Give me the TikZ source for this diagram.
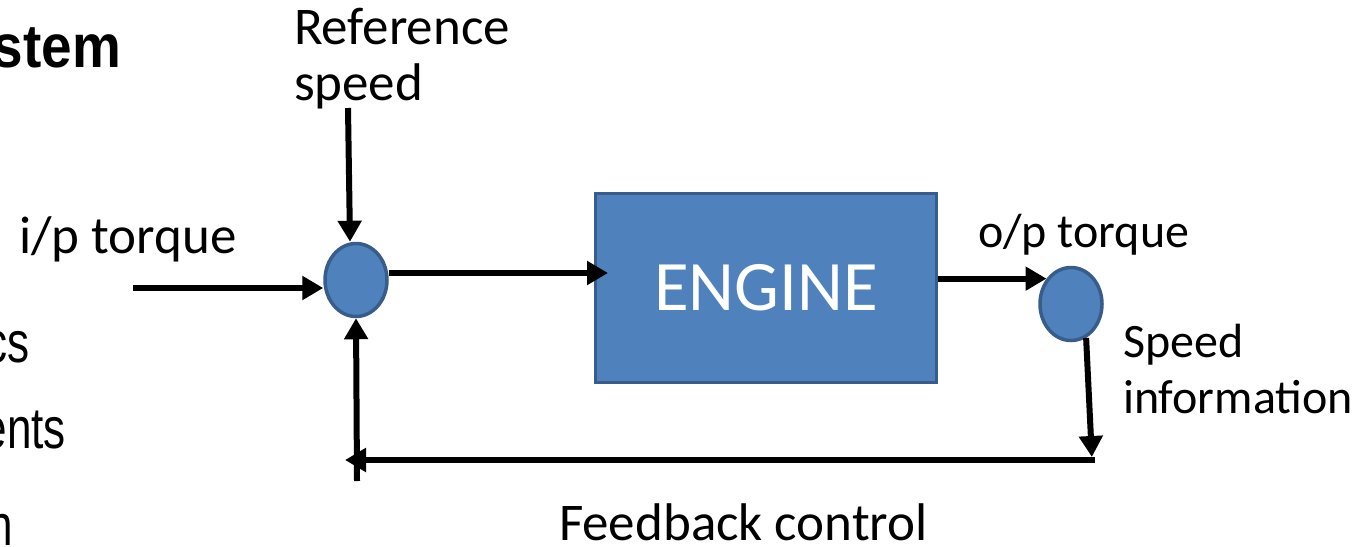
\documentclass[tikz,border=0pt]{standalone}
\usepackage{fontspec}
\setmainfont{Carlito}
\newfontfamily\slidefont{Liberation Sans}
\usetikzlibrary{positioning,calc,arrows.meta,shapes.geometric}
\definecolor{blockblue}{RGB}{79,129,189}
\definecolor{blockedge}{RGB}{56,93,138}
\newcommand{\squeezed}[2][0.76]{\scalebox{#1}[1]{#2}}

\begin{document}
\begin{tikzpicture}[x=1pt,y=-1pt,line width=6pt,>={Triangle[length=21pt,width=23pt]},
  lbl/.style={inner sep=0pt,anchor=base west,font=\fontsize{53}{56}\selectfont},
  lblr/.style={lbl,font=\fontsize{48}{56}\selectfont},
  frag/.style={inner sep=0pt,anchor=base east,font=\slidefont\fontsize{58}{60}\selectfont},
  junction/.style={ellipse,draw=blockedge,fill=blockblue,line width=3.5pt,minimum width=62pt,minimum height=73pt,inner sep=0pt},
  block/.style={rectangle,draw=blockedge,fill=blockblue,line width=3pt,minimum width=341pt,minimum height=189pt,text=white,font=\fontsize{71}{72}\selectfont}]
\useasboundingbox (0,0) rectangle (1370,546);
\clip (0,0) rectangle (1370,546);
\fill[white] (0,0) rectangle (1370,546);
% slide text cut off at the left
\node[frag,font=\slidefont\bfseries\fontsize{61}{64}\selectfont] (sys) at (124,67) {\squeezed[0.9]{stem}};
\node[frag] (cs) at (33,362) {\squeezed{cs}};
\node[frag] (ents) at (69,448) {\squeezed{ents}};
\node[frag] (n) at (16,545) {\squeezed{n}};
% blocks
\node[junction] (sum) at (356,280) {};
\node[block] (engine) at (766,288) {ENGINE};
\node[junction] (pick) at (1071,304) {};
% labels
\node[lbl] (ref) at (291,44) {Reference};
\node[lbl] (refb) at (291,100) {speed};
\node[lbl] (ip) at (16,253) {i/p torque};
\node[lblr] (op) at (975,247) {o/p torque};
\node[lblr] (spd) at (1120,357) {Speed};
\node[lblr] (info) at (1120,413) {information};
\node[lbl] (fb) at (556,540) {Feedback control};
% free ends
\coordinate (ipin) at (133,288);
\coordinate (refin) at (348,108);
\coordinate (fbr) at (1092,460);
\coordinate (fbl) at (345,460);
\coordinate (fbb) at (357,481);
\coordinate (s1) at ([yshift=7pt]sum.east);
\draw[->] (ipin) -- (ipin -| sum.west);
\draw[->] (refin) -- ([xshift=-6pt]sum.north);
\draw[->,shorten >=-14pt] (s1) -- (s1 -| engine.west);
\draw[->] (engine.east |- pick.134) -- (pick.134);
\draw[->,shorten >=3pt] (pick.-66) -- (fbr);
\draw[->,line cap=rect] (fbr) -- (fbl);
\draw[->] (fbb) -- (sum.south);
\end{tikzpicture}
\end{document}
